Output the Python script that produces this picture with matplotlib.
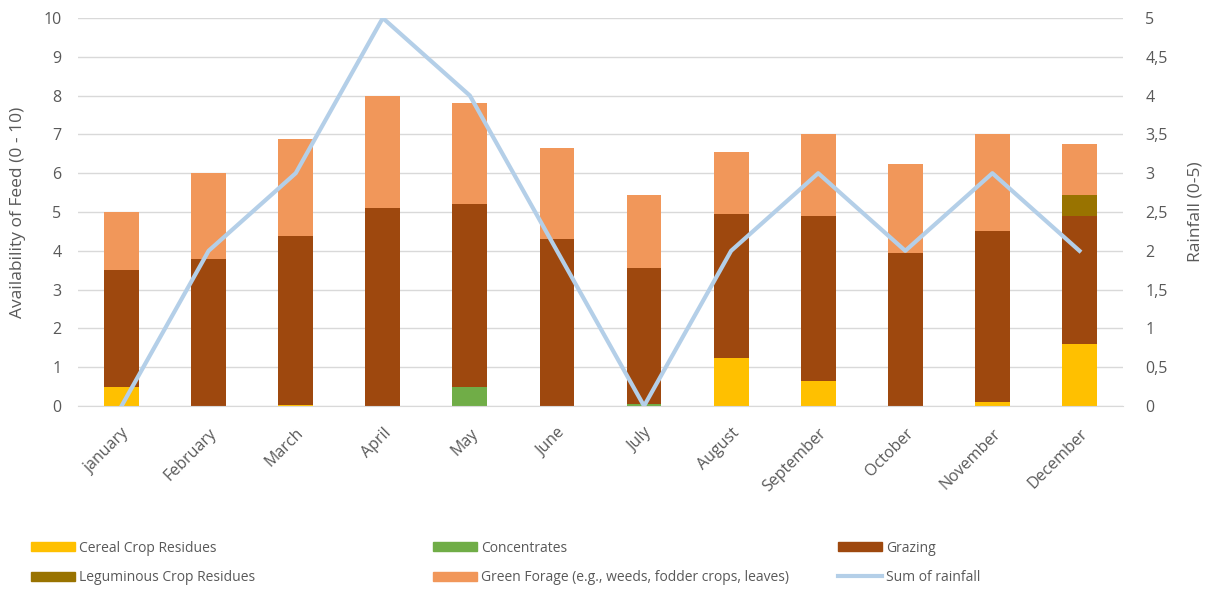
import matplotlib.pyplot as plt
from matplotlib.patches import Patch
from matplotlib.lines import Line2D
import numpy as np

months = ["january", "February", "March", "April", "May", "June", "July",
          "August", "September", "October", "November", "December"]

cereal = [0.5, 0.0, 0.03, 0.0, 0.0, 0.0, 0.0, 1.25, 0.65, 0.0, 0.1, 1.6]
concentrates = [0.0, 0.0, 0.0, 0.0, 0.5, 0.0, 0.05, 0.0, 0.0, 0.0, 0.0, 0.0]
grazing = [3.0, 3.8, 4.35, 5.1, 4.7, 4.3, 3.5, 3.7, 4.25, 3.95, 4.4, 3.3]
leguminous = [0.0, 0.0, 0.0, 0.0, 0.0, 0.0, 0.0, 0.0, 0.0, 0.0, 0.0, 0.55]
green_forage = [1.5, 2.2, 2.5, 2.9, 2.6, 2.35, 1.9, 1.6, 2.1, 2.3, 2.5, 1.3]
rainfall = [0, 2, 3, 5, 4, 2, 0, 2, 3, 2, 3, 2]

c_cereal = "#FFC000"
c_conc = "#70AD47"
c_grazing = "#9E480E"
c_legum = "#997300"
c_green = "#F1975A"
c_rain = "#B4CFE8"
grey = "#595959"

plt.rcParams['font.family'] = ['Open Sans', 'DejaVu Sans']

fig = plt.figure(figsize=(12.05, 5.93), dpi=100)
ax = fig.add_axes([78 / 1205, 1 - 406 / 593, (1123 - 78) / 1205, (406 - 18) / 593])

x = np.arange(len(months))
w = 0.4
bottom = np.zeros(len(months))
for vals, col in [(cereal, c_cereal), (concentrates, c_conc), (grazing, c_grazing),
                  (leguminous, c_legum), (green_forage, c_green)]:
    ax.bar(x, vals, w, bottom=bottom, color=col, zorder=2)
    bottom += np.array(vals)

ax.set_xlim(-0.5, len(months) - 0.5)
ax.set_ylim(0, 10)
ax.set_yticks(range(0, 11))
ax.grid(axis='y', color="#D9D9D9", linewidth=1, zorder=0)
ax.set_axisbelow(True)
for s in ax.spines.values():
    s.set_visible(False)
ax.spines['bottom'].set_visible(True)
ax.spines['bottom'].set_color("#D9D9D9")
ax.tick_params(length=0, colors=grey, labelsize=11.5)
ax.tick_params(axis='y', pad=12)
ax.tick_params(axis='x', pad=14)
ax.set_xticks(x)
ax.set_xticklabels(months, rotation=45, ha='right', rotation_mode='anchor')
ax.set_ylabel("Availability of Feed (0 - 10)", color=grey, fontsize=12.5, labelpad=12)

ax2 = ax.twinx()
ax2.plot(x, rainfall, color=c_rain, linewidth=3, zorder=3)
ax2.set_ylim(0, 5)
ax2.set_yticks(np.arange(0, 5.01, 0.5))
ax2.set_yticklabels([("%g" % v).replace(".", ",") for v in np.arange(0, 5.01, 0.5)])
for s in ax2.spines.values():
    s.set_visible(False)
ax2.tick_params(length=0, colors=grey, labelsize=11.5, pad=16)
ax2.set_ylabel("Rainfall (0-5)", color=grey, fontsize=12.5, labelpad=14)

# legend in three columns along the bottom
cols = [
    [(Patch(color=c_cereal), "Cereal Crop Residues"),
     (Patch(color=c_legum), "Leguminous Crop Residues")],
    [(Patch(color=c_conc), "Concentrates"),
     (Patch(color=c_green), "Green Forage (e.g., weeds, fodder crops, leaves)")],
    [(Patch(color=c_grazing), "Grazing"),
     (Line2D([], [], color=c_rain, linewidth=3), "Sum of rainfall")],
]
for xpos, entries in zip([18, 420, 825], cols):
    leg = fig.legend([h for h, _ in entries], [l for _, l in entries],
                     loc='upper left', bbox_to_anchor=(xpos / 1205, 1 - 528 / 593),
                     frameon=False, fontsize=10, handlelength=3.2, handleheight=0.6,
                     handletextpad=0.3, labelspacing=1.05, labelcolor=grey)

fig.savefig("out.png", dpi=100)
